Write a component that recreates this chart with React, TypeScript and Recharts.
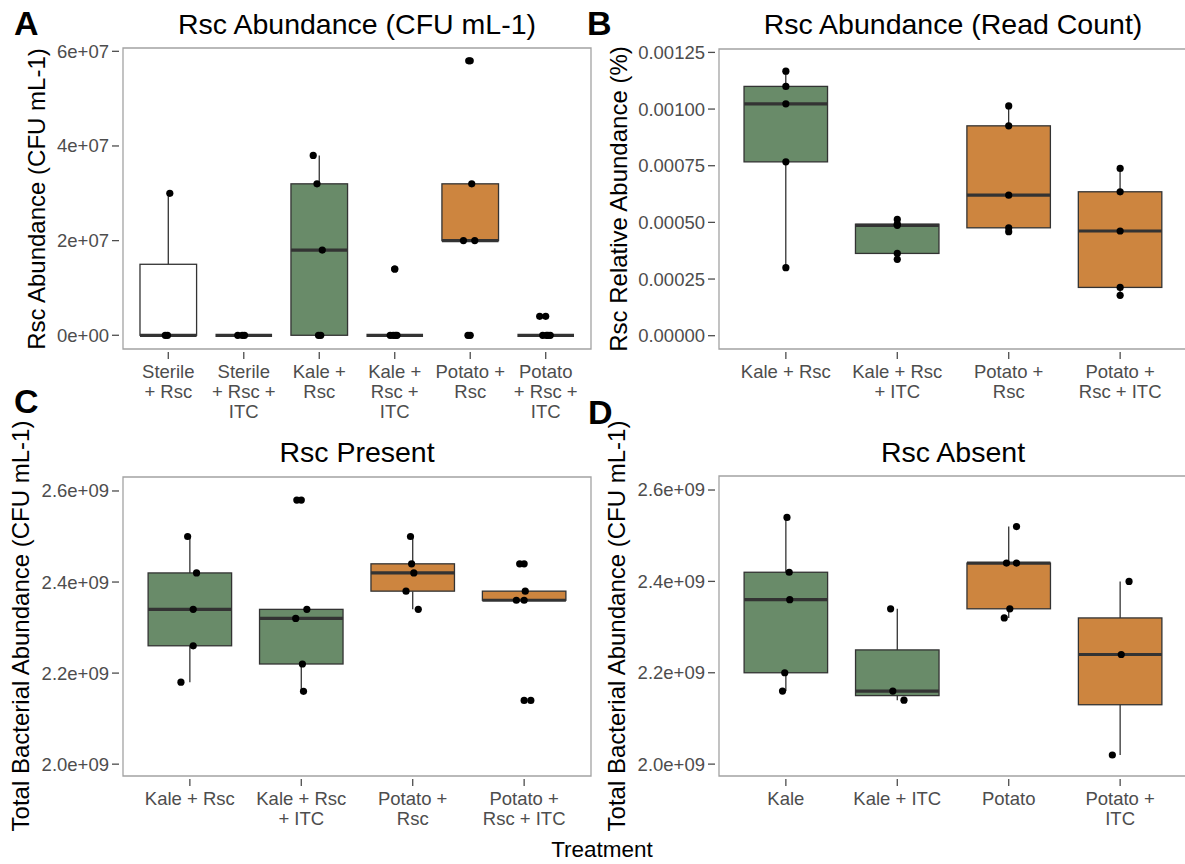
import { Bar, ComposedChart, ReferenceArea, Scatter, XAxis, YAxis } from "recharts";

const GREEN = "#698B69";
const ORANGE = "#CD853F";
const WHITE = "#FFFFFF";
const INK = "#333333";
const AXIS_TEXT = "#4d4d4d";

// Panel A: Rsc Abundance (CFU mL-1)
const aCategories = ["Sterile\n+ Rsc", "Sterile\n+ Rsc +\nITC", "Kale +\nRsc", "Kale +\nRsc +\nITC", "Potato +\nRsc", "Potato\n+ Rsc +\nITC"];
const aFills = [WHITE, WHITE, GREEN, GREEN, ORANGE, ORANGE];
// [whisker low, Q1, median, Q3, whisker high]
const aBoxes = [
  [0, 0, 0, 1.5e7, 3e7],
  [0, 0, 0, 0, 0],
  [0, 0, 1.8e7, 3.2e7, 3.8e7],
  [0, 0, 0, 0, 0],
  [2e7, 2e7, 2e7, 3.2e7, 3.2e7],
  [0, 0, 0, 0, 0],
];
const aPoints = [
  [1.02, 3e7], [0.96, 0], [0.99, 0],
  [1.92, 0], [2.01, 0], [1.98, 0],
  [2.92, 3.8e7], [2.97, 3.2e7], [3.04, 1.8e7], [2.99, 0], [3.02, 0],
  [4.0, 1.4e7], [3.94, 0], [4.03, 0], [3.98, 0], [4.01, 0],
  [4.98, 5.8e7], [5.02, 3.2e7], [4.91, 2e7], [5.06, 2e7], [4.97, 0],
  [5.92, 4e6], [5.96, 0], [6.06, 0], [6.01, 0], [6.03, 0],
];
const aOutliers = [[4, 1.4e7], [5, 5.8e7], [5, 0], [6, 4e6]];
const aTicks = [0, 2e7, 4e7, 6e7];
const aTickLabels = ["0e+00", "2e+07", "4e+07", "6e+07"];
const aDomain = [-2.9e6, 6.07e7];

// Panel B: Rsc Abundance (Read Count)
const bCategories = ["Kale + Rsc", "Kale + Rsc\n+ ITC", "Potato +\nRsc", "Potato +\nRsc + ITC"];
const bFills = [GREEN, GREEN, ORANGE, ORANGE];
const bBoxes = [
  [0.0003, 0.000767, 0.001023, 0.0011, 0.001167],
  [0.000337, 0.000363, 0.000487, 0.000492, 0.000513],
  [0.000459, 0.000476, 0.00062, 0.000926, 0.001014],
  [0.000178, 0.000213, 0.000462, 0.000635, 0.000738],
];
const bPoints = [
  [1.0, 0.0003], [1.0, 0.000767], [1.0, 0.001023], [1.0, 0.0011], [1.0, 0.001167],
  [2.0, 0.000337], [2.0, 0.000363], [2.0, 0.000487], [2.0, 0.000492], [2.0, 0.000513],
  [3.0, 0.000459], [3.0, 0.000476], [3.0, 0.00062], [3.0, 0.000926], [3.0, 0.001014],
  [4.0, 0.000178], [4.0, 0.000213], [4.0, 0.000462], [4.0, 0.000635], [4.0, 0.000738],
];
const bOutliers: number[][] = [];
const bTicks = [0, 0.00025, 0.0005, 0.00075, 0.001, 0.00125];
const bTickLabels = ["0.00000", "0.00025", "0.00050", "0.00075", "0.00100", "0.00125"];
const bDomain = [-0.0000587, 0.001265];

// Panel C: Rsc Present
const cCategories = ["Kale + Rsc", "Kale + Rsc\n+ ITC", "Potato +\nRsc", "Potato +\nRsc + ITC"];
const cFills = [GREEN, GREEN, ORANGE, ORANGE];
const cBoxes = [
  [2.18e9, 2.26e9, 2.34e9, 2.42e9, 2.5e9],
  [2.16e9, 2.22e9, 2.32e9, 2.34e9, 2.34e9],
  [2.34e9, 2.38e9, 2.42e9, 2.44e9, 2.5e9],
  [2.36e9, 2.36e9, 2.36e9, 2.38e9, 2.38e9],
];
const cPoints = [
  [0.98, 2.5e9], [1.06, 2.42e9], [1.03, 2.34e9], [1.03, 2.26e9], [0.92, 2.18e9],
  [1.96, 2.58e9], [2.05, 2.34e9], [1.95, 2.32e9], [2.01, 2.22e9], [2.02, 2.16e9],
  [2.98, 2.5e9], [2.99, 2.44e9], [3.01, 2.42e9], [2.94, 2.38e9], [3.05, 2.34e9],
  [3.96, 2.44e9], [4.01, 2.38e9], [3.93, 2.36e9], [4.0, 2.36e9], [4.06, 2.14e9],
];
const cOutliers = [[2, 2.58e9], [4, 2.44e9], [4, 2.14e9]];

// Panel D: Rsc Absent
const dCategories = ["Kale", "Kale + ITC", "Potato", "Potato +\nITC"];
const dFills = [GREEN, GREEN, ORANGE, ORANGE];
const dBoxes = [
  [2.16e9, 2.2e9, 2.36e9, 2.42e9, 2.54e9],
  [2.14e9, 2.15e9, 2.16e9, 2.25e9, 2.34e9],
  [2.32e9, 2.34e9, 2.44e9, 2.44e9, 2.52e9],
  [2.02e9, 2.13e9, 2.24e9, 2.32e9, 2.4e9],
];
const dPoints = [
  [1.01, 2.54e9], [1.03, 2.42e9], [1.035, 2.36e9], [0.99, 2.2e9], [0.97, 2.16e9],
  [1.94, 2.34e9], [1.96, 2.16e9], [2.06, 2.14e9],
  [3.07, 2.52e9], [2.98, 2.44e9], [3.07, 2.44e9], [3.01, 2.34e9], [2.96, 2.32e9],
  [4.08, 2.4e9], [4.01, 2.24e9], [3.93, 2.02e9],
];
const dOutliers: number[][] = [];

const tbTicks = [2.0e9, 2.2e9, 2.4e9, 2.6e9];
const tbTickLabels = ["2.0e+09", "2.2e+09", "2.4e+09", "2.6e+09"];
const tbDomain = [1.974e9, 2.6307e9];

const whiskerRange = (d: any) => (d && d.stats ? [d.stats[0], d.stats[4]] : undefined);

// box plot drawn inside the range bar [whisker low, whisker high]
const BoxShape = (props: any) => {
  const { x, y, width, height, payload, boxWidth } = props;
  if (!payload || !payload.stats) return null;
  const [lo, q1, med, q3, hi] = payload.stats;
  const span = hi - lo;
  const py = (v: number) => (span === 0 ? y : y + ((hi - v) / span) * height);
  const cx = x + width / 2;
  const bx = cx - boxWidth / 2;
  return (
    <g>
      <line x1={cx} x2={cx} y1={py(hi)} y2={py(q3)} stroke={INK} strokeWidth={1.3} />
      <line x1={cx} x2={cx} y1={py(q1)} y2={py(lo)} stroke={INK} strokeWidth={1.3} />
      <rect x={bx} y={py(q3)} width={boxWidth} height={py(q1) - py(q3)} fill={payload.fill} stroke={INK} strokeWidth={1.3} />
      <line x1={bx} x2={bx + boxWidth} y1={py(med)} y2={py(med)} stroke={INK} strokeWidth={3.2} />
    </g>
  );
};

const XTick = ({ x, y, payload, labels }: any) => {
  const label = labels[Math.round(payload.value) - 1] ?? "";
  const lines = label.split("\n");
  return (
    <g>
      <line x1={x} x2={x} y1={y + 3} y2={y + 10} stroke={AXIS_TEXT} strokeWidth={1.3} />
      <text x={x} y={y + 29} textAnchor="middle" fill={AXIS_TEXT} fontSize={18.5}>
        {lines.map((l: string, i: number) => (
          <tspan key={i} x={x} dy={i === 0 ? 0 : 20}>{l}</tspan>
        ))}
      </text>
    </g>
  );
};

const YTick = ({ x, y, payload, ticks, labels }: any) => {
  const idx = ticks.indexOf(payload.value);
  return (
    <g>
      <line x1={x - 11} x2={x - 4} y1={y} y2={y} stroke={AXIS_TEXT} strokeWidth={1.3} />
      <text x={x - 14} y={y} dy="0.35em" textAnchor="end" fill={AXIS_TEXT} fontSize={18.5}>
        {labels[idx] ?? ""}
      </text>
    </g>
  );
};

type PanelProps = {
  left: number;
  top: number;
  width: number;
  height: number;
  margin: { top: number; right: number; bottom: number; left: number };
  yAxisWidth: number;
  xAxisHeight: number;
  categories: string[];
  fills: string[];
  boxes: number[][];
  points: number[][];
  outliers: number[][];
  ticks: number[];
  tickLabels: string[];
  domain: number[];
  boxWidth: number;
};

const Dot = (s: any) => <circle cx={s.cx} cy={s.cy} r={3.6} fill="#000" />;

const BoxPanel = (p: PanelProps) => {
  const n = p.categories.length;
  const xDomain = [0.4, n + 0.6];
  const boxData = p.boxes.map((stats, i) => ({ x: i + 1, stats, fill: p.fills[i] }));
  const pointData = p.points.map(([x, y]) => ({ x, y }));
  const outlierData = p.outliers.map(([x, y]) => ({ x, y }));
  const xTicks = p.categories.map((_, i) => i + 1);
  return (
    <div style={{ position: "absolute", left: p.left, top: p.top }}>
      <ComposedChart width={p.width} height={p.height} data={boxData} margin={p.margin}>
        <XAxis
          dataKey="x"
          type="number"
          domain={xDomain}
          ticks={xTicks}
          interval={0}
          allowDataOverflow
          axisLine={false}
          tickLine={false}
          tickSize={0}
          tickMargin={0}
          height={p.xAxisHeight}
          tick={(t: any) => <XTick {...t} labels={p.categories} />}
        />
        <YAxis
          type="number"
          domain={p.domain}
          ticks={p.ticks}
          interval={0}
          allowDataOverflow
          axisLine={false}
          tickLine={false}
          tickSize={0}
          tickMargin={0}
          width={p.yAxisWidth}
          tick={(t: any) => <YTick {...t} ticks={p.ticks} labels={p.tickLabels} />}
        />
        <ReferenceArea x1={xDomain[0]} x2={xDomain[1]} y1={p.domain[0]} y2={p.domain[1]} fill="none" stroke="#a3a3a3" strokeWidth={1.3} fillOpacity={0} />
        <Bar
          dataKey={whiskerRange}
          shape={(s: any) => <BoxShape {...s} boxWidth={p.boxWidth} />}
          isAnimationActive={false}
        />
        {outlierData.length > 0 && (
          <Scatter data={outlierData} dataKey="y" shape={Dot} isAnimationActive={false} />
        )}
        <Scatter data={pointData} dataKey="y" shape={Dot} isAnimationActive={false} />
      </ComposedChart>
    </div>
  );
};

const font = "'Liberation Sans', Arial, Helvetica, sans-serif";

const App = () => {
  return (
    <div style={{ position: "absolute", left: 0, top: 0, width: 1185, height: 864, overflow: "hidden", background: "#fff", fontFamily: font }}>
      <BoxPanel
        left={0} top={0} width={600} height={440}
        margin={{ top: 48, right: 9, bottom: 0, left: 0 }}
        yAxisWidth={123} xAxisHeight={91}
        categories={aCategories} fills={aFills} boxes={aBoxes}
        points={aPoints} outliers={aOutliers}
        ticks={aTicks} tickLabels={aTickLabels} domain={aDomain}
        boxWidth={56.6}
      />
      <BoxPanel
        left={600} top={0} width={600} height={440}
        margin={{ top: 49, right: 13, bottom: 0, left: 0 }}
        yAxisWidth={119} xAxisHeight={91}
        categories={bCategories} fills={bFills} boxes={bBoxes}
        points={bPoints} outliers={bOutliers}
        ticks={bTicks} tickLabels={bTickLabels} domain={bDomain}
        boxWidth={83.5}
      />
      <BoxPanel
        left={0} top={420} width={600} height={444}
        margin={{ top: 57, right: 9, bottom: 0, left: 0 }}
        yAxisWidth={123} xAxisHeight={88}
        categories={cCategories} fills={cFills} boxes={cBoxes}
        points={cPoints} outliers={cOutliers}
        ticks={tbTicks} tickLabels={tbTickLabels} domain={tbDomain}
        boxWidth={83.5}
      />
      <BoxPanel
        left={600} top={420} width={600} height={444}
        margin={{ top: 56, right: 13, bottom: 0, left: 0 }}
        yAxisWidth={119} xAxisHeight={88}
        categories={dCategories} fills={dFills} boxes={dBoxes}
        points={dPoints} outliers={dOutliers}
        ticks={tbTicks} tickLabels={tbTickLabels} domain={tbDomain}
        boxWidth={83.5}
      />
      <svg width={1185} height={864} style={{ position: "absolute", left: 0, top: 0, pointerEvents: "none" }}>
        <g fontWeight="bold" fontSize={34} fill="#000">
          <text x={14} y={35}>A</text>
          <text x={587} y={35}>B</text>
          <text x={14} y={413}>C</text>
          <text x={588} y={424}>D</text>
        </g>
        <g fontSize={28.5} fill="#000" textAnchor="middle">
          <text x={357} y={34}>Rsc Abundance (CFU mL-1)</text>
          <text x={953} y={34}>Rsc Abundance (Read Count)</text>
          <text x={357} y={462}>Rsc Present</text>
          <text x={953} y={462}>Rsc Absent</text>
        </g>
        <g fontSize={24} fill="#000" textAnchor="middle">
          <text transform="translate(45,199) rotate(-90)">Rsc Abundance (CFU mL-1)</text>
          <text transform="translate(627,199) rotate(-90)">Rsc Relative Abundance (%)</text>
          <text transform="translate(28.5,626) rotate(-90)">Total Bacterial Abundance (CFU mL-1)</text>
          <text transform="translate(625,626) rotate(-90)">Total Bacterial Abundance (CFU mL-1)</text>
        </g>
        <text x={602} y={857} fontSize={22.5} textAnchor="middle" fill="#000">Treatment</text>
      </svg>
    </div>
  );
};

export default App;
